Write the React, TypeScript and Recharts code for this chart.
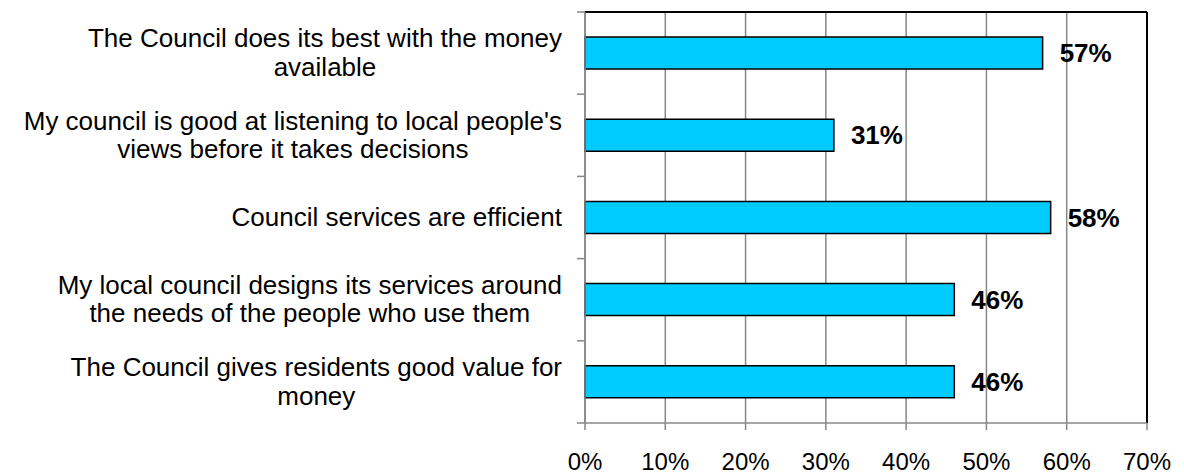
import {
  BarChart,
  Bar,
  XAxis,
  YAxis,
  CartesianGrid,
  LabelList,
  ReferenceLine,
} from "recharts"

const categories = [
  "The Council does its best with the money\navailable",
  "My council is good at listening to local people's\nviews before it takes decisions",
  "Council services are efficient",
  "My local council designs its services around\nthe needs of the people who use them",
  "The Council gives residents good value for\nmoney",
]
const agreePct = [57, 31, 58, 46, 46]
const xTicks = [0, 10, 20, 30, 40, 50, 60, 70]

const data = categories.map((name, i) => ({ name, value: agreePct[i] }))

const FONT = "'Liberation Sans', Arial, sans-serif"
const W = 1184
const H = 474
const TOP = 12
const XAXIS_H = 51
const BAND = (H - TOP - XAXIS_H) / categories.length
const GRID = "#878787"

let ctx: CanvasRenderingContext2D | null = null
function textWidth(s: string, font: string) {
  if (!ctx) ctx = document.createElement("canvas").getContext("2d")
  if (!ctx) return s.length * 13
  ctx.font = font
  return ctx.measureText(s).width
}

// wrapped category label, lines centred on each other, block right-aligned
function CategoryTick(props: any) {
  const { x, y, payload, index } = props
  const lines = String(payload.value).split("\n")
  const maxW = Math.max(...lines.map((l) => textWidth(l, `26px ${FONT}`)))
  const cx = x - maxW / 2
  const lh = 28.5
  const first = -((lines.length - 1) * lh) / 2 + 8.5
  return (
    <g>
      <line x1={x + 15} x2={x + 23} y1={y - BAND / 2} y2={y - BAND / 2} stroke={GRID} strokeWidth={1.5} />
      {index === categories.length - 1 && (
        <line x1={x + 15} x2={x + 23} y1={y + BAND / 2} y2={y + BAND / 2} stroke={GRID} strokeWidth={1.5} />
      )}
      <text x={cx} y={y} textAnchor="middle" fontSize={26} fontFamily={FONT} fill="#000">
        {lines.map((l, i) => (
          <tspan key={i} x={cx} y={y + first + i * lh}>
            {l}
          </tspan>
        ))}
      </text>
    </g>
  )
}

export default function App() {
  return (
    <div style={{ position: "absolute", left: 0, top: 0, width: W, height: H, background: "#fff" }}>
      <BarChart
        width={W}
        height={H}
        data={data}
        layout="vertical"
        margin={{ top: TOP, right: 37, left: 0, bottom: 0 }}
        barCategoryGap={0}
      >
        <CartesianGrid horizontal={false} stroke={GRID} strokeWidth={1.5} />
        {/* plot-area frame, top edge */}
        <CartesianGrid
          vertical={false}
          horizontalCoordinatesGenerator={(p: any) => [p.offset.top]}
          stroke="#000"
          strokeWidth={2}
        />
        <XAxis
          type="number"
          dataKey="value"
          domain={[0, 70]}
          ticks={xTicks}
          interval={0}
          tickFormatter={(v) => `${v}%`}
          height={XAXIS_H}
          tickSize={7}
          tickMargin={23}
          axisLine={{ stroke: GRID, strokeWidth: 1.5 }}
          tickLine={{ stroke: GRID, strokeWidth: 1.5 }}
          tick={{ fontSize: 24, fill: "#000", fontFamily: FONT }}
        />
        <YAxis
          type="category"
          dataKey="name"
          width={585}
          interval={0}
          tickSize={8}
          tickMargin={15}
          tickLine={false}
          axisLine={{ stroke: GRID, strokeWidth: 1.5 }}
          tick={<CategoryTick />}
        />
        <ReferenceLine x={70} stroke="#000" strokeWidth={2} />
        <Bar
          dataKey="value"
          fill="#00CCFF"
          stroke="#000"
          strokeWidth={1.5}
          barSize={32}
          isAnimationActive={false}
        >
          <LabelList
            dataKey="value"
            position="right"
            offset={17}
            formatter={(v: any) => `${v}%`}
            style={{ fontSize: 26, fontWeight: "bold", fill: "#000", fontFamily: FONT }}
          />
        </Bar>
      </BarChart>
    </div>
  )
}
